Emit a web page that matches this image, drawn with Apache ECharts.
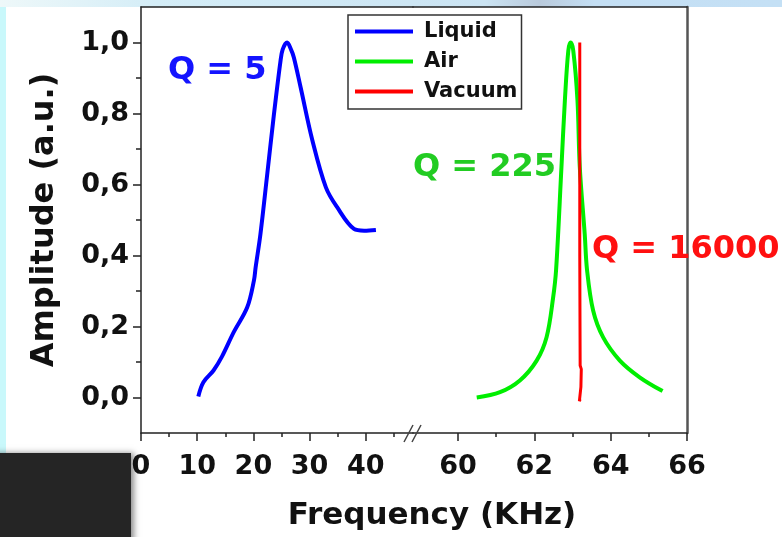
<!DOCTYPE html>
<html>
<head>
<meta charset="utf-8">
<title>Resonance amplitude vs frequency</title>
<script src="https://cdn.jsdelivr.net/npm/echarts@6/dist/echarts.min.js"></script>
<style>
  html, body { margin: 0; padding: 0; background: #ffffff; }
  #chart { width: 782px; height: 537px; }
</style>
</head>
<body>
<div id="chart"></div>
<script>
// Resonance curves of a cantilever in three media (normalised amplitude).
const seriesNames = ['Liquid', 'Air', 'Vacuum'];

// Liquid: broad peak around 26 kHz
const liquidFreq = [10.2, 11.1, 12.9, 14.4, 16.5, 18.9, 20.1, 20.4, 21.25, 22.4, 23.6, 24.8, 25.2, 26.0, 26.7, 27.2, 28.4, 30.5, 32.9, 34.9, 37.9, 39.7, 41.8];
const liquidAmp  = [0.003, 0.043, 0.076, 0.115, 0.184, 0.254, 0.33, 0.367, 0.46, 0.62, 0.79, 0.945, 0.98, 1.0, 0.98, 0.958, 0.874, 0.724, 0.592, 0.536, 0.475, 0.47, 0.472];

// Air: narrow peak around 62.95 kHz
const airFreq = [60.49, 61.1, 61.62, 62.06, 62.32, 62.49, 62.57, 62.71, 62.80, 62.89, 62.95, 63.02, 63.13, 63.19, 63.32, 63.38, 63.54, 63.80, 64.24, 64.76, 65.36];
const airAmp  = [0.0, 0.015, 0.048, 0.104, 0.17, 0.28, 0.36, 0.649, 0.837, 0.977, 1.0, 0.977, 0.837, 0.65, 0.46, 0.36, 0.245, 0.17, 0.104, 0.057, 0.018];

// Vacuum: essentially a spike at 63.19 kHz
const vacuumFreq = [63.19, 63.19, 63.20, 63.23, 63.22, 63.18, 63.20];
const vacuumAmp  = [1.0, 0.4, 0.09, 0.08, 0.03, -0.01, -0.005];

// Axis ticks (the frequency axis is split into two segments)
const ampMajorTicks = [0, 0.2, 0.4, 0.6, 0.8, 1.0];
const ampMinorTicks = [0.1, 0.3, 0.5, 0.7, 0.9];
const lowFreqMajorTicks = [0, 10, 20, 30, 40];
const lowFreqMinorTicks = [5, 15, 25, 35, 45];
const highFreqMajorTicks = [60, 62, 64, 66];
const highFreqMinorTicks = [61, 63, 65];

// Q factors written next to each curve
const qLabels = ['Q = 5', 'Q = 225', 'Q = 16000'];

const colors = ['#0000ff', '#00ee00', '#ff0000'];
const qColors = ['#1414ff', '#22cc22', '#ff1010'];

const FONT = '"DejaVu Sans", "Liberation Sans", sans-serif';
const AXIS_COLOR = '#222';

const zip = (xs, ys) => xs.map((x, i) => [x, ys[i]]);

const Y_MIN = -0.1, Y_MAX = 1.1;
const LOW_MIN = 0, LOW_MAX = 48.4;
const HIGH_MIN = 58.82, HIGH_MAX = 66;

const plotTop = 7, plotBottom = 433, plotLeft = 141, plotSplit = 413, plotRight = 687;

const labelStyle = { fontFamily: FONT, fontWeight: 'bold', fontSize: 27, color: '#111' };

function xAxisMajor(grid, min, max, ticks) {
  return {
    type: 'value', gridIndex: grid, position: 'bottom', min: min, max: max,
    splitLine: { show: false },
    axisLine: { show: true, onZero: false, lineStyle: { color: AXIS_COLOR, width: 1.5 } },
    axisTick: { show: true, inside: false, length: 8, customValues: ticks, lineStyle: { color: AXIS_COLOR, width: 1.5 } },
    axisLabel: Object.assign({ show: true, margin: 20, customValues: ticks, formatter: v => String(Math.round(v)) }, labelStyle)
  };
}
function xAxisMinor(grid, min, max, ticks) {
  return {
    type: 'value', gridIndex: grid, position: 'bottom', min: min, max: max,
    splitLine: { show: false },
    axisLine: { show: false, onZero: false },
    axisTick: { show: true, inside: false, length: 4, customValues: ticks, lineStyle: { color: AXIS_COLOR, width: 1.5 } },
    axisLabel: { show: false }
  };
}
function frameAxis(grid, pos, min, max, color, width) {
  return {
    type: 'value', gridIndex: grid, position: pos, min: min, max: max,
    splitLine: { show: false },
    axisLine: { show: true, onZero: false, lineStyle: { color: color, width: width } },
    axisTick: { show: false }, axisLabel: { show: false }
  };
}

const option = {
  backgroundColor: '#ffffff',
  animation: false,
  color: colors,
  grid: [
    { left: plotLeft, top: plotTop, width: plotSplit - plotLeft, height: plotBottom - plotTop },
    { left: plotSplit, top: plotTop, width: plotRight - plotSplit, height: plotBottom - plotTop }
  ],
  xAxis: [
    xAxisMajor(0, LOW_MIN, LOW_MAX, lowFreqMajorTicks),
    xAxisMinor(0, LOW_MIN, LOW_MAX, lowFreqMinorTicks),
    xAxisMajor(1, HIGH_MIN, HIGH_MAX, highFreqMajorTicks),
    xAxisMinor(1, HIGH_MIN, HIGH_MAX, highFreqMinorTicks),
    frameAxis(0, 'top', LOW_MIN, LOW_MAX, AXIS_COLOR, 1.5),
    frameAxis(1, 'top', HIGH_MIN, HIGH_MAX, AXIS_COLOR, 1.5)
  ],
  yAxis: [
    {
      type: 'value', gridIndex: 0, position: 'left', min: Y_MIN, max: Y_MAX,
      name: 'Amplitude (a.u.)', nameLocation: 'middle', nameGap: 80,
      nameTextStyle: { fontFamily: FONT, fontWeight: 'bold', fontSize: 32, color: '#111' },
      splitLine: { show: false },
      axisLine: { show: true, onZero: false, lineStyle: { color: AXIS_COLOR, width: 1.5 } },
      axisTick: { show: true, inside: false, length: 8, customValues: ampMajorTicks, lineStyle: { color: AXIS_COLOR, width: 1.5 } },
      axisLabel: Object.assign({ show: true, margin: 12, customValues: ampMajorTicks, formatter: v => v.toFixed(1).replace('.', ',') }, labelStyle)
    },
    {
      type: 'value', gridIndex: 0, position: 'left', min: Y_MIN, max: Y_MAX,
      splitLine: { show: false },
      axisLine: { show: false, onZero: false },
      axisTick: { show: true, inside: false, length: 5, customValues: ampMinorTicks, lineStyle: { color: AXIS_COLOR, width: 1.5 } },
      axisLabel: { show: false }
    },
    frameAxis(1, 'right', Y_MIN, Y_MAX, '#555', 2.5)
  ],
  legend: {
    data: seriesNames,
    orient: 'vertical',
    left: 348, top: 15,
    icon: 'rect', itemWidth: 58, itemHeight: 4, itemGap: 9,
    padding: [6, 4, 7, 7],
    backgroundColor: '#ffffff',
    borderColor: '#333', borderWidth: 1.5, borderRadius: 0,
    textStyle: { fontFamily: FONT, fontWeight: 'bold', fontSize: 21, color: '#111', padding: [0, 0, 0, 6] }
  },
  series: [
    {
      name: seriesNames[0], type: 'line', xAxisIndex: 0, yAxisIndex: 0,
      data: zip(liquidFreq, liquidAmp), smooth: 0.35, showSymbol: false,
      lineStyle: { width: 4, color: colors[0] }
    },
    {
      name: seriesNames[1], type: 'line', xAxisIndex: 2, yAxisIndex: 2,
      data: zip(airFreq, airAmp), smooth: 0.35, showSymbol: false,
      lineStyle: { width: 4, color: colors[1] }
    },
    {
      name: seriesNames[2], type: 'line', xAxisIndex: 2, yAxisIndex: 2,
      data: zip(vacuumFreq, vacuumAmp), smooth: false, showSymbol: false,
      lineStyle: { width: 3, color: colors[2] }
    }
  ],
  graphic: [
    // pale frame strips along the top and left edges
    {
      type: 'rect', z: -1, shape: { x: 0, y: 0, width: 782, height: 7 },
      style: {
        fill: new echarts.graphic.LinearGradient(0, 0, 1, 0, [
          { offset: 0, color: '#eef8f9' }, { offset: 0.2, color: '#d4edf7' },
          { offset: 0.62, color: '#cbe4f3' }, { offset: 0.69, color: '#b9cadc' },
          { offset: 0.76, color: '#c4dff4' }, { offset: 1, color: '#c4e0f5' }
        ])
      }
    },
    { type: 'rect', z: -1, shape: { x: 0, y: 7, width: 6, height: 446 }, style: { fill: '#c9f8fb' } },
    // break marks on the frequency axis
    { type: 'line', z: 10, shape: { x1: 404, y1: 442, x2: 413, y2: 425 }, style: { stroke: '#444', lineWidth: 1.5 } },
    { type: 'line', z: 10, shape: { x1: 412, y1: 442, x2: 421, y2: 425 }, style: { stroke: '#444', lineWidth: 1.5 } },
    // frequency axis title
    {
      type: 'text', z: 10,
      style: { x: 432, y: 516, text: 'Frequency (KHz)', textAlign: 'center', textVerticalAlign: 'middle',
               font: 'bold 31px ' + FONT, fill: '#111' }
    },
    // Q factor annotations
    {
      type: 'text', z: 10,
      style: { x: 168, y: 71, text: qLabels[0], textAlign: 'left', textVerticalAlign: 'middle',
               font: 'bold 32px ' + FONT, fill: qColors[0] }
    },
    {
      type: 'text', z: 10,
      style: { x: 413, y: 168, text: qLabels[1], textAlign: 'left', textVerticalAlign: 'middle',
               font: 'bold 32px ' + FONT, fill: qColors[1] }
    },
    {
      type: 'text', z: 10,
      style: { x: 592, y: 250, text: qLabels[2], textAlign: 'left', textVerticalAlign: 'middle',
               font: 'bold 32px ' + FONT, fill: qColors[2] }
    },
    // dark panel in the lower-left corner
    {
      type: 'rect', z: 100, shape: { x: -10, y: 453, width: 141, height: 100 },
      style: { fill: '#252525', shadowBlur: 6, shadowOffsetX: 3, shadowColor: 'rgba(0,0,0,0.45)' }
    }
  ]
};

const chart = echarts.init(document.getElementById('chart'), null, { renderer: 'canvas' });
chart.setOption(option);
</script>
</body>
</html>
